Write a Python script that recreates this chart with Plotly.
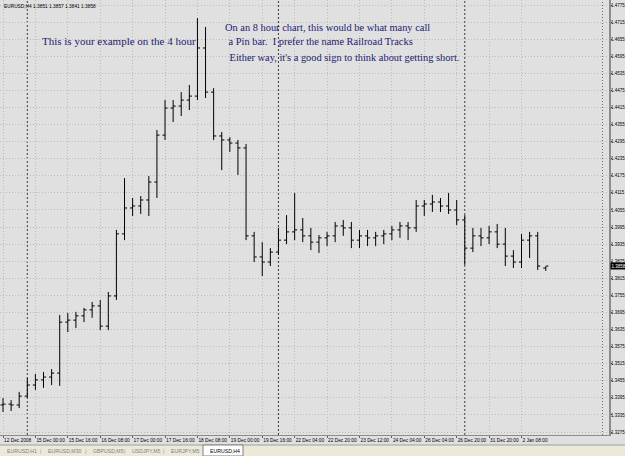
import plotly.graph_objects as go

# ---------------- data ----------------
bar_times = [
    "2008.12.12 12:00", "2008.12.12 16:00", "2008.12.12 20:00", "2008.12.14 20:00",
    "2008.12.15 00:00", "2008.12.15 04:00", "2008.12.15 08:00", "2008.12.15 12:00",
    "2008.12.15 16:00", "2008.12.15 20:00", "2008.12.16 00:00", "2008.12.16 04:00",
    "2008.12.16 08:00", "2008.12.16 12:00", "2008.12.16 16:00", "2008.12.16 20:00",
    "2008.12.17 00:00", "2008.12.17 04:00", "2008.12.17 08:00", "2008.12.17 12:00",
    "2008.12.17 16:00", "2008.12.17 20:00", "2008.12.18 00:00", "2008.12.18 04:00",
    "2008.12.18 08:00", "2008.12.18 12:00", "2008.12.18 16:00", "2008.12.18 20:00",
    "2008.12.19 00:00", "2008.12.19 04:00", "2008.12.19 08:00", "2008.12.19 12:00",
    "2008.12.19 16:00", "2008.12.19 20:00", "2008.12.21 20:00", "2008.12.22 00:00",
    "2008.12.22 04:00", "2008.12.22 08:00", "2008.12.22 12:00", "2008.12.22 16:00",
    "2008.12.22 20:00", "2008.12.23 00:00", "2008.12.23 04:00", "2008.12.23 08:00",
    "2008.12.23 12:00", "2008.12.23 16:00", "2008.12.23 20:00", "2008.12.24 00:00",
    "2008.12.24 04:00", "2008.12.24 08:00", "2008.12.24 12:00", "2008.12.26 00:00",
    "2008.12.26 04:00", "2008.12.26 08:00", "2008.12.26 12:00", "2008.12.26 16:00",
    "2008.12.26 20:00", "2008.12.31 08:00", "2008.12.31 12:00", "2008.12.31 16:00",
    "2008.12.31 20:00", "2009.01.01 20:00", "2009.01.02 00:00", "2009.01.02 04:00",
    "2009.01.02 08:00", "2009.01.02 12:00", "2009.01.02 16:00", "2009.01.02 20:00",
]

opens = [
    1.3370, 1.3373, 1.3370, 1.3401, 1.3440, 1.3458, 1.3468, 1.3482,
    1.3661, 1.3668, 1.3683, 1.3704, 1.3718, 1.3647, 1.3753, 1.3971,
    1.4062, 1.4069, 1.4090, 1.4153, 1.4318, 1.4413, 1.4420, 1.4441,
    1.4455, 1.4624, 1.4469, 1.4315, 1.4301, 1.4290, 1.4273, 1.3964,
    1.3890, 1.3872, 1.3907, 1.3949, 1.3978, 1.3985, 1.3964, 1.3942,
    1.3957, 1.3964, 1.3999, 1.3992, 1.3949, 1.3964, 1.3957, 1.3964,
    1.3971, 1.3985, 1.3999, 1.3992, 1.4069, 1.4076, 1.4083, 1.4069,
    1.4055, 1.4020, 1.3921, 1.3964, 1.3957, 1.3978, 1.3935, 1.3893,
    1.3872, 1.3949, 1.3964, 1.3851,
]
highs = [
    1.3394, 1.3387, 1.3416, 1.3465, 1.3479, 1.3486, 1.3496, 1.3686,
    1.3693, 1.3697, 1.3711, 1.3732, 1.3739, 1.3767, 1.3985, 1.4167,
    1.4097, 1.4104, 1.4174, 1.4336, 1.4441, 1.4441, 1.4469, 1.4494,
    1.4729, 1.4698, 1.4483, 1.4329, 1.4311, 1.4301, 1.4287, 1.3978,
    1.3942, 1.3921, 1.3992, 1.4037, 1.4115, 1.4027, 1.3992, 1.3967,
    1.3978, 1.4013, 1.4020, 1.4013, 1.3985, 1.3985, 1.3978, 1.3985,
    1.3999, 1.4013, 1.4013, 1.4090, 1.4090, 1.4108, 1.4097, 1.4115,
    1.4090, 1.4037, 1.3992, 1.3992, 1.3999, 1.4006, 1.3992, 1.3914,
    1.3971, 1.3978, 1.3978, 1.3857,
]
lows = [
    1.3345, 1.3349, 1.3359, 1.3394, 1.3423, 1.3430, 1.3440, 1.3437,
    1.3626, 1.3640, 1.3661, 1.3676, 1.3633, 1.3633, 1.3739, 1.3949,
    1.4034, 1.4041, 1.4034, 1.4097, 1.4301, 1.4364, 1.4385, 1.4406,
    1.4441, 1.4448, 1.4301, 1.4195, 1.4259, 1.4178, 1.3949, 1.3872,
    1.3823, 1.3858, 1.3897, 1.3935, 1.3949, 1.3942, 1.3914, 1.3904,
    1.3928, 1.3942, 1.3964, 1.3921, 1.3921, 1.3928, 1.3928, 1.3935,
    1.3949, 1.3957, 1.3949, 1.3978, 1.4034, 1.4048, 1.4048, 1.4041,
    1.4002, 1.3862, 1.3907, 1.3928, 1.3935, 1.3921, 1.3858, 1.3851,
    1.3851, 1.3886, 1.3844, 1.3841,
]
closes = [
    1.3373, 1.3370, 1.3401, 1.3440, 1.3458, 1.3468, 1.3482, 1.3661,
    1.3668, 1.3683, 1.3704, 1.3718, 1.3647, 1.3753, 1.3971, 1.4062,
    1.4069, 1.4090, 1.4153, 1.4318, 1.4413, 1.4420, 1.4441, 1.4455,
    1.4624, 1.4469, 1.4315, 1.4301, 1.4290, 1.4273, 1.3964, 1.3890,
    1.3872, 1.3907, 1.3949, 1.3978, 1.3985, 1.3964, 1.3942, 1.3957,
    1.3964, 1.3999, 1.3992, 1.3949, 1.3964, 1.3957, 1.3964, 1.3971,
    1.3985, 1.3999, 1.3992, 1.4069, 1.4076, 1.4083, 1.4069, 1.4055,
    1.4020, 1.3921, 1.3964, 1.3957, 1.3978, 1.3935, 1.3893, 1.3872,
    1.3949, 1.3964, 1.3858, 1.3858,
]

time_tick_bars = [
    "2008.12.12 12:00", "2008.12.15 00:00", "2008.12.15 16:00", "2008.12.16 08:00",
    "2008.12.17 00:00", "2008.12.17 16:00", "2008.12.18 08:00", "2008.12.19 00:00",
    "2008.12.19 16:00", "2008.12.22 04:00", "2008.12.22 20:00", "2008.12.23 12:00",
    "2008.12.24 04:00", "2008.12.26 04:00", "2008.12.26 20:00", "2008.12.31 20:00",
    "2009.01.02 08:00",
]
time_tick_text = [
    "12 Dec 2008", "15 Dec 00:00", "15 Dec 16:00", "16 Dec 08:00",
    "17 Dec 00:00", "17 Dec 16:00", "18 Dec 08:00", "19 Dec 00:00",
    "19 Dec 16:00", "22 Dec 04:00", "22 Dec 20:00", "23 Dec 12:00",
    "24 Dec 04:00", "26 Dec 04:00", "26 Dec 20:00", "31 Dec 20:00",
    "2 Jan 08:00",
]
price_ticks = [
    1.4775, 1.4715, 1.4655, 1.4595, 1.4535, 1.4475, 1.4415, 1.4355, 1.4295,
    1.4235, 1.4175, 1.4115, 1.4055, 1.3995, 1.3935, 1.3875, 1.3815, 1.3755,
    1.3695, 1.3635, 1.3575, 1.3515, 1.3455, 1.3395, 1.3335, 1.3275,
]
period_separators = ["2008.12.14 20:00", "2008.12.21 20:00", "2008.12.31 08:00"]

symbol = "EURUSD,H4"
last_price = 1.3858
tabs = ["EURUSD,H1", "EURUSD,M30", "GBPUSD,M5", "USDJPY,M5", "EURJPY,M5", "EURUSD,H4"]

# ---------------- layout geometry ----------------
W, H = 625, 456
PL, PR, PT, PB = 0, 609, 0, 435          # plot area in pixels
PW, PH = PR - PL, PB - PT


def px(x):
    return (x - PL) / PW


def py(y):
    return (PB - y) / PH


BG = "#e0e0e0"
GRID = "#bcbcbc"
TEXT_BLUE = "#1b1b72"
SMALL = "Liberation Sans"

fig = go.Figure()
fig.add_trace(go.Ohlc(
    x=bar_times, open=opens, high=highs, low=lows, close=closes,
    increasing=dict(line=dict(color="black", width=1)),
    decreasing=dict(line=dict(color="black", width=1)),
    tickwidth=0.32, hoverinfo="skip", showlegend=False,
))

shapes = []
for t in period_separators:
    shapes.append(dict(type="line", xref="x", yref="paper", x0=t, x1=t, y0=0, y1=1,
                       line=dict(color="#3c3c3c", width=1, dash="2px,2px"), layer="below"))
# dotted line near price scale
shapes.append(dict(type="line", xref="paper", yref="paper", x0=px(602.5), x1=px(602.5), y0=0, y1=1,
                   line=dict(color="#707070", width=1, dash="1px,2px"), layer="below"))
# tab bar
shapes.append(dict(type="rect", xref="paper", yref="paper", x0=px(0), x1=px(625), y0=py(456), y1=py(445),
                   fillcolor="#ece9d8", line=dict(width=0), layer="above"))
shapes.append(dict(type="line", xref="paper", yref="paper", x0=px(0), x1=px(625), y0=py(445), y1=py(445),
                   line=dict(color="#a0a0a0", width=1), layer="above"))
shapes.append(dict(type="rect", xref="paper", yref="paper", x0=px(203), x1=px(243), y0=py(456), y1=py(445),
                   fillcolor="white", line=dict(color="#808080", width=1), layer="above"))

annotations = []
# header
annotations.append(dict(xref="paper", yref="paper", x=px(2), y=py(1.5), xanchor="left", yanchor="top",
                        text=f"{symbol} {opens[-1]:.4f} {highs[-1]:.4f} {lows[-1]:.4f} {closes[-1]:.4f}",
                        showarrow=False, font=dict(family=SMALL, size=4.8, color="black")))
# commentary
annotations.append(dict(xref="paper", yref="paper", x=px(40), y=py(41), xanchor="left", yanchor="middle",
                        text="This is your example on the 4 hour", showarrow=False,
                        font=dict(family="Liberation Serif", size=11, color=TEXT_BLUE)))
right_lines = [
    (223, 27, "On an 8 hour chart, this would be what many call"),
    (224, 42, " a Pin bar.\u00a0 I prefer the name Railroad Tracks"),
    (225, 57, " Either way, it's a good sign to think about getting short."),
]
for x0, y0, t in right_lines:
    annotations.append(dict(xref="paper", yref="paper", x=px(x0), y=py(y0), xanchor="left", yanchor="middle",
                            text=t, showarrow=False,
                            font=dict(family="Liberation Serif", size=10.4, color=TEXT_BLUE)))
# current price box
annotations.append(dict(xref="paper", yref="y", x=px(609.5), y=last_price, xanchor="left", yanchor="middle",
                        text=f"{last_price:.4f}", showarrow=False, bgcolor="black", borderpad=0.5,
                        font=dict(family=SMALL, size=4.5, color="white")))
# tabs
tab_x = [5, 46, 91, 130, 169, 208]
for i, (tx, t) in enumerate(zip(tab_x, tabs)):
    annotations.append(dict(xref="paper", yref="paper", x=px(tx), y=py(450.5), xanchor="left", yanchor="middle",
                            text=t, showarrow=False,
                            font=dict(family=SMALL, size=5.2,
                                      color="black" if i == len(tabs) - 1 else "#808080")))
    if 0 < i < len(tabs) - 1:
        annotations.append(dict(xref="paper", yref="paper", x=px(tx - 5), y=py(450.5), xanchor="center",
                                yanchor="middle", text="|", showarrow=False,
                                font=dict(family=SMALL, size=6, color="#a0a0a0")))

fig.update_layout(
    width=W, height=H,
    margin=dict(l=PL, r=W - PR, t=PT, b=H - PB, pad=0),
    paper_bgcolor=BG, plot_bgcolor=BG,
    shapes=shapes, annotations=annotations,
    showlegend=False,
    xaxis=dict(
        type="category", categoryorder="array", categoryarray=bar_times,
        range=[-0.37, 74.8], rangeslider=dict(visible=False),
        tickmode="array", tickvals=time_tick_bars, ticktext=time_tick_text,
        ticklabelposition="outside right", tickangle=0,
        ticks="outside", ticklen=2, tickcolor="#606060",
        tickfont=dict(family=SMALL, size=4.8, color="black"),
        showgrid=True, gridcolor=GRID, griddash="1px,2px", gridwidth=1,
        showline=True, linecolor="#8c8c8c", linewidth=1,
        zeroline=False, automargin=False, fixedrange=True,
    ),
    yaxis=dict(
        side="right", range=[1.32645, 1.47926],
        tickmode="array", tickvals=price_ticks, ticktext=[f"{v:.4f}" for v in price_ticks],
        ticks="outside", ticklen=1, tickcolor="#404040", tickangle=0,
        ticklabelstandoff=-2,
        tickfont=dict(family=SMALL, size=4.5, color="black"),
        showgrid=True, gridcolor=GRID, griddash="1px,2px", gridwidth=1,
        showline=True, linecolor="#8c8c8c", linewidth=2,
        zeroline=False, automargin=False, fixedrange=True,
    ),
)

fig.write_html("out.html")
